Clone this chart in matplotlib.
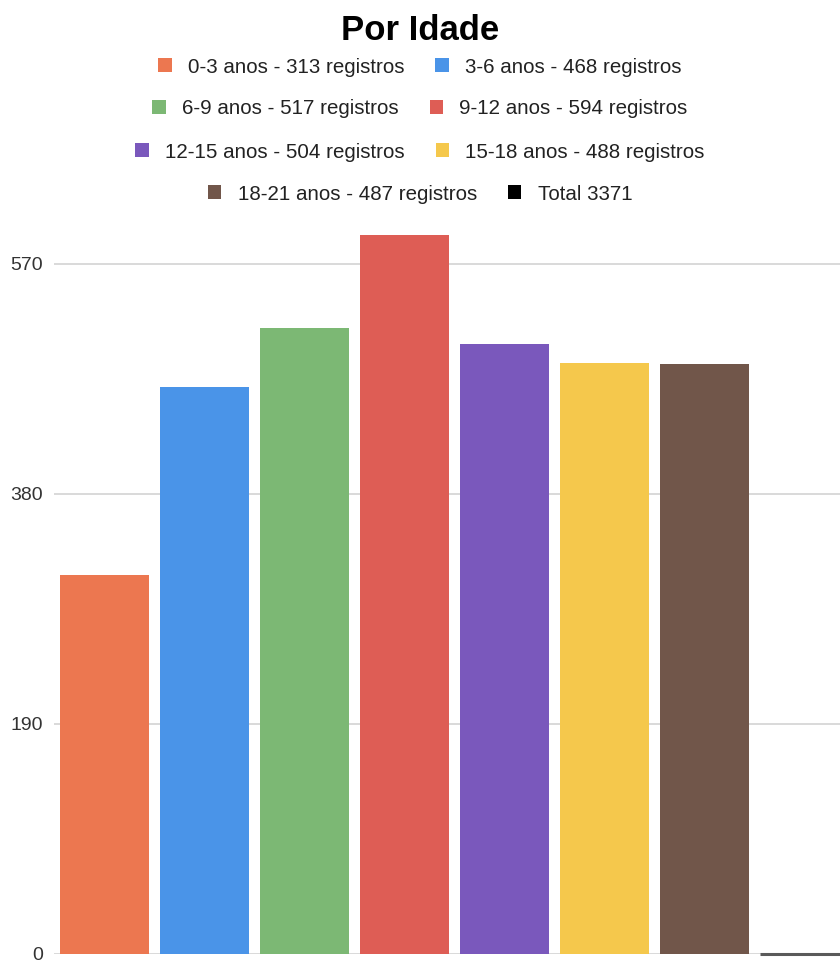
import matplotlib
matplotlib.use("Agg")
import matplotlib.pyplot as plt

plt.rcParams['font.family'] = ['Liberation Sans', 'DejaVu Sans']

# Age groups and record counts
faixas = ["0-3 anos", "3-6 anos", "6-9 anos", "9-12 anos",
          "12-15 anos", "15-18 anos", "18-21 anos"]
registros = [313, 468, 517, 594, 504, 488, 487]
cores = ["#EC7750", "#4A94E8", "#7CB874", "#DE5D55",
         "#7A58BC", "#F5C84C", "#71564A"]
total = sum(registros)
total_barra = 0          # the "Total" series sits flat on the baseline
yticks = [0, 190, 380, 570]

fig = plt.figure(figsize=(8.4, 9.61), dpi=100)
ax = fig.add_axes([54 / 840, 7 / 961, 800 / 840, 734 / 961])

bars = ax.bar(range(len(faixas)), registros, width=0.89, color=cores, linewidth=0)
tot = ax.bar([len(faixas)], [total_barra], width=0.89, color="#000000",
             edgecolor="#5a5a5a", linewidth=2.2, clip_on=False, zorder=3)

ax.set_xlim(-0.5, len(faixas) + 0.5)
ax.set_ylim(0, 734 / (690 / 570))
ax.set_yticks(yticks)
ax.set_yticklabels([str(v) for v in yticks])
ax.set_xticks([])
ax.grid(axis="y", color="#d9d9d9", linewidth=1.4)
ax.set_axisbelow(True)
for s in ax.spines.values():
    s.set_visible(False)
ax.tick_params(axis="y", length=0, pad=8, labelsize=14, labelcolor="#333333")

fig.text(0.5, 1 - 30 / 961, "Por Idade", ha="center", va="center",
         fontsize=25, fontweight="bold", color="#000000")

handles = list(bars.patches) + [tot.patches[0]]
labels = [f"{f} - {r} registros" for f, r in zip(faixas, registros)] + [f"Total {total}"]
row_y = [1 - 67 / 961, 1 - 109 / 961, 1 - 152 / 961, 1 - 194 / 961]
for i, y in enumerate(row_y):
    h = handles[2 * i:2 * i + 2]
    l = labels[2 * i:2 * i + 2]
    leg = fig.legend(h, l, loc="center", bbox_to_anchor=(0.5, y), ncol=2,
                     frameon=False, fontsize=14.8, handlelength=0.65,
                     handleheight=0.65, handletextpad=0.8, columnspacing=1.5,
                     borderpad=0, labelcolor="#222222")
    for lh in leg.legend_handles:
        lh.set_edgecolor("none")

fig.savefig("out.png", dpi=100)
